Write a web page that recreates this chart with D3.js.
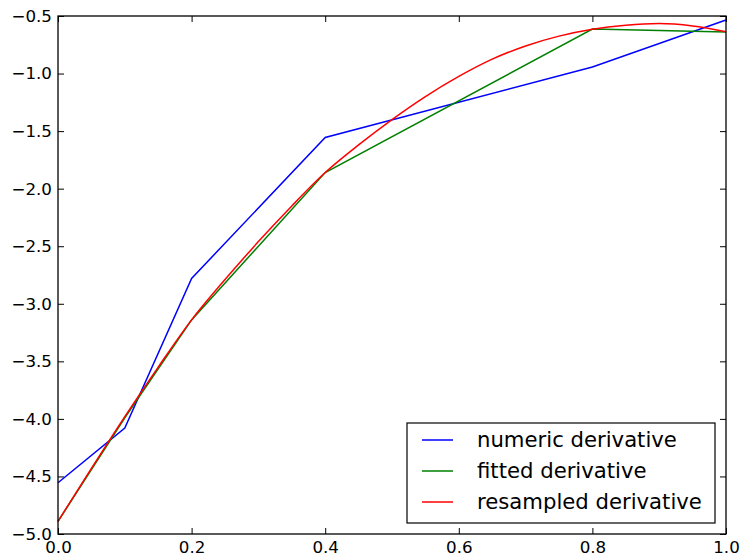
<!DOCTYPE html>
<html>
<head>
<meta charset="utf-8">
<script src="https://cdn.jsdelivr.net/npm/d3@7"></script>
<style>
  body { margin: 0; background: #fff; }
  text { font-family: "DejaVu Sans", sans-serif; fill: #000; }
</style>
</head>
<body>
<script>
var w = 742;
var h = 559;

// numeric derivative (blue)
var numericX = [0, 0.1, 0.2, 0.4, 0.8, 1.0];
var numericY = [-4.555, -4.08, -2.78, -1.555, -0.943, -0.535];

// fitted derivative (green)
var fittedX = [0, 0.1, 0.2, 0.4, 0.8, 1.0];
var fittedY = [-4.89, -3.99, -3.14, -1.86, -0.613, -0.638];

// resampled derivative (red)
var resampledX = [0, 0.05, 0.1, 0.15, 0.2, 0.25, 0.3, 0.35, 0.4, 0.45, 0.5,
  0.55, 0.6, 0.65, 0.7, 0.75, 0.8, 0.85, 0.9, 0.95, 1.0];
var resampledY = [-4.89, -4.43, -3.98, -3.55, -3.14, -2.79, -2.46, -2.15, -1.86, -1.62, -1.40,
  -1.20, -1.025, -0.875, -0.76, -0.675, -0.615, -0.58, -0.566, -0.587, -0.637];

var xTicks = [0, 0.2, 0.4, 0.6, 0.8, 1.0];
var yTicks = [-5.0, -4.5, -4.0, -3.5, -3.0, -2.5, -2.0, -1.5, -1.0, -0.5];

var seriesNames = ["numeric derivative", "fitted derivative", "resampled derivative"];
var seriesColors = ["#0000ff", "#008000", "#ff0000"];

var margin = { left: 58, right: 16, top: 16, bottom: 25 };

var svg = d3.select("body").append("svg")
  .attr("width", w)
  .attr("height", h);

svg.append("rect").attr("width", w).attr("height", h).attr("fill", "#fff");

var x = d3.scaleLinear().domain([0, 1]).range([margin.left, w - margin.right]);
var y = d3.scaleLinear().domain([-5, -0.5]).range([h - margin.bottom, margin.top]);

var fmt = d3.format(".1f");

// Axes, ticks pointing inward (matplotlib classic)
svg.append("g")
  .attr("transform", "translate(0," + y(-5) + ")")
  .call(d3.axisBottom(x).tickValues(xTicks).tickFormat(fmt).tickSizeInner(-6).tickSizeOuter(0).tickPadding(7));
svg.append("g")
  .attr("transform", "translate(0," + y(-0.5) + ")")
  .call(d3.axisTop(x).tickValues(xTicks).tickFormat("").tickSizeInner(-6).tickSizeOuter(0));
svg.append("g")
  .attr("transform", "translate(" + x(0) + ",0)")
  .call(d3.axisLeft(y).tickValues(yTicks).tickFormat(fmt).tickSizeInner(-6).tickSizeOuter(0).tickPadding(6));
svg.append("g")
  .attr("transform", "translate(" + x(1) + ",0)")
  .call(d3.axisRight(y).tickValues(yTicks).tickFormat("").tickSizeInner(-6).tickSizeOuter(0));

svg.selectAll(".tick text")
  .style("font-family", "'DejaVu Sans', sans-serif")
  .style("font-size", "16.7px");
svg.selectAll(".tick line").attr("stroke", "#000").attr("stroke-width", 1);
svg.selectAll(".domain").remove();

// Lines
var series = [
  { xs: numericX, ys: numericY, curve: d3.curveLinear },
  { xs: fittedX, ys: fittedY, curve: d3.curveLinear },
  { xs: resampledX, ys: resampledY, curve: d3.curveMonotoneX }
];

series.forEach(function (s, i) {
  var pts = s.xs.map(function (v, j) { return [v, s.ys[j]]; });
  var line = d3.line()
    .x(function (d) { return x(d[0]); })
    .y(function (d) { return y(d[1]); })
    .curve(s.curve);
  svg.append("path")
    .attr("d", line(pts))
    .attr("fill", "none")
    .attr("stroke", seriesColors[i])
    .attr("stroke-width", 1.5);
});

// Frame
svg.append("rect")
  .attr("x", x(0))
  .attr("y", y(-0.5))
  .attr("width", x(1) - x(0))
  .attr("height", y(-5) - y(-0.5))
  .attr("fill", "none")
  .attr("stroke", "#000")
  .attr("stroke-width", 1.3);

// Legend
var legend = svg.append("g").attr("transform", "translate(407,423)");
legend.append("rect")
  .attr("width", 308)
  .attr("height", 100)
  .attr("fill", "#fff")
  .attr("stroke", "#000")
  .attr("stroke-width", 1.2);

var rows = legend.selectAll("g.row")
  .data(seriesNames)
  .enter().append("g")
  .attr("class", "row")
  .attr("transform", function (d, i) { return "translate(0," + (17 + i * 31) + ")"; });

rows.append("line")
  .attr("x1", 15).attr("x2", 46)
  .attr("stroke", function (d, i) { return seriesColors[i]; })
  .attr("stroke-width", 1.5);

rows.append("text")
  .attr("x", 70)
  .attr("dy", "0.35em")
  .style("font-size", "21.2px")
  .text(function (d) { return d; });
</script>
</body>
</html>
